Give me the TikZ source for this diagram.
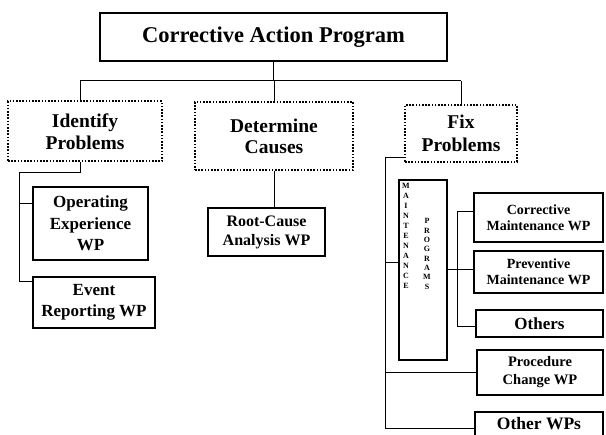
\documentclass[tikz,border=0pt]{standalone}
\usepackage{fontspec}
\setmainfont{Liberation Serif}
\usetikzlibrary{positioning}

\newcommand{\fsz}[2]{\bfseries\fontsize{#1}{#2}\selectfont}

\begin{document}
\begin{tikzpicture}[x=1pt, y=-1pt,
    box/.style={draw, line width=1.2pt, inner sep=0pt, align=center},
    dotbox/.style={draw, line width=2pt, dash pattern=on 1.6pt off 1.6pt,
        inner sep=0pt, align=center},
    link/.style={line width=1pt},
    letters/.style={inner sep=0pt, align=center, font=\fsz{8}{10}}]

\useasboundingbox (0,0) rectangle (606,435);

% top level
\node[box, minimum width=347, minimum height=48, font=\fsz{22.5}{24}]
    (cap) at (273.5,37) {Corrective Action Program};

\node[dotbox, minimum width=154, minimum height=60, font=\fsz{19.5}{22.5}]
    (ident) at (85,131.5) {Identify\\Problems};
\node[dotbox, minimum width=158, minimum height=68, font=\fsz{19.5}{21}]
    (det) at (274,136) {Determine\\Causes};
\node[dotbox, minimum width=112, minimum height=57, font=\fsz{19.5}{23}]
    (fix) at (461,133.5) {Fix\\Problems};

% work processes
\node[box, minimum width=115, minimum height=73, font=\fsz{17}{21.5}]
    (oper) at (90.5,223.5) {Operating\\Experience\\WP};
\node[box, minimum width=122, minimum height=51, font=\fsz{17}{21.5}]
    (event) at (94,302.5) {Event\\Reporting WP};
\node[box, minimum width=117, minimum height=48, font=\fsz{16}{19}]
    (root) at (266.5,232) {Root-Cause\\Analysis WP};

\node[box, minimum width=48, minimum height=180] (maint) at (423,270) {};
\node[letters, anchor=north] (mleft) at (406,183.5)
    {M\\A\\I\\N\\T\\E\\N\\A\\N\\C\\E};
\node[letters, anchor=north, font=\fsz{8}{9.3}] (mright) at (427,218.5)
    {P\\R\\O\\G\\R\\A\\M\\S};

\node[box, minimum width=129, minimum height=49, font=\fsz{14}{16}]
    (corr) at (538.5,217.5) {Corrective\\Maintenance WP};
\node[box, minimum width=129, minimum height=42, font=\fsz{14}{16}]
    (prev) at (538.5,272) {Preventive\\Maintenance WP};
\node[box, minimum width=127, minimum height=27, font=\fsz{17}{20}]
    (others) at (539.5,323.5) {Others};
\node[box, minimum width=126, minimum height=45, font=\fsz{14.5}{18}]
    (proc) at (540,372.5) {Procedure\\Change WP};
\node[box, minimum width=128, minimum height=24, font=\fsz{17.5}{20}]
    (otherwps) at (539,424) {Other WPs};

% connectors from the top box
\coordinate (busL) at (80,81);
\coordinate (busR) at (461,81);
\draw[link] (cap.south) -- (cap.south |- busL);
\draw[link] (busL) -- (busR);
\draw[link] (busL) -- (busL |- ident.north);
\draw[link] (det.north |- busL) -- (det.north);
\draw[link] (busR) -- (busR |- fix.north);

% identify problems
\coordinate (ibus) at (19,173);
\draw[link] (busL |- ident.south) -- (busL |- ibus) -- (ibus)
    |- ([yshift=-5pt]event.north west);
\draw[link] (ibus) |- ([yshift=-17pt]oper.north west);

% determine causes
\draw[link] (det.south) -- (det.south |- root.north);

% fix problems
\coordinate (fbus) at (385,420);
\coordinate (otw) at ([yshift=-5pt]otherwps.west);
\draw[link] ([yshift=-24.5pt]fix.west) -| (fbus |- otw) -- (otw);
\draw[link] (fbus |- maint.west) ++(0,-7) -- ([yshift=7pt]maint.west);
\draw[link] (fbus |- proc.west) -- (proc.west);

% maintenance programs
\draw[link] (maint.east) -- (maint.east -| prev.west);
\draw[link] ([yshift=5.5pt]corr.west) -- ++(-16,0) |- ([yshift=-3.5pt]others.west);

\end{tikzpicture}
\end{document}
